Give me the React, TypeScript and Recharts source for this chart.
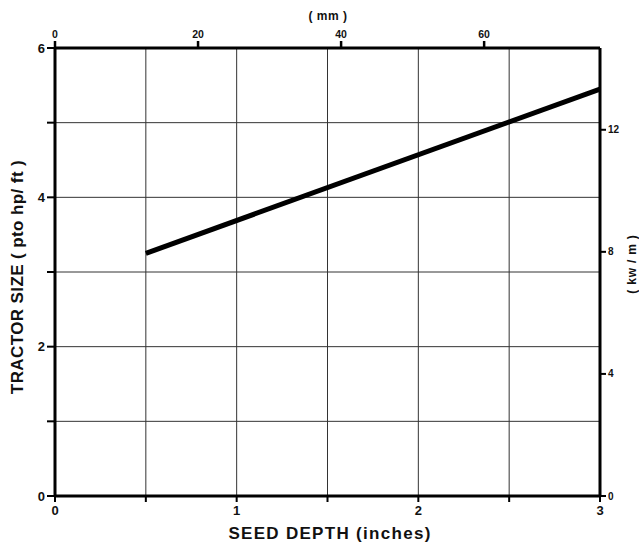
import React from 'react';
import { LineChart, Line, XAxis, YAxis, CartesianGrid } from 'recharts';

const depthIn = [0.5, 3];
const tractorSize = [3.25, 5.45];
const xTicks = [0, 0.5, 1, 1.5, 2, 2.5, 3];
const yTicks = [0, 1, 2, 3, 4, 5, 6];
const mmTicks = [0, 20, 40, 60];
const kwTicks = [0, 4, 8, 12];
const MM_PER_IN = 25.4;
const HP_FT_TO_KW_M = 0.7457 / 0.3048;

const data = depthIn.map((d, i) => ({ depth: d, mm: d * MM_PER_IN, size: tractorSize[i] }));

const FONT = '"Liberation Sans", Arial, sans-serif';
const tickStyle = { fontFamily: FONT, fontSize: 11, fontWeight: 700, fill: '#111' };

export default function App() {
  return (
    <div style={{ position: 'absolute', left: 0, top: 0, width: 639, height: 543, background: '#fff' }}>
      <LineChart width={639} height={543} data={data} margin={{ top: 0, right: 0, bottom: 0, left: 0 }}>
        <CartesianGrid xAxisId="in" yAxisId="hp" stroke="#333" strokeWidth={1} />
        <XAxis
          xAxisId="in"
          dataKey="depth"
          type="number"
          domain={[0, 3]}
          ticks={xTicks}
          orientation="bottom"
          height={47}
          stroke="#000"
          strokeWidth={3}
          tickSize={6}
          tickMargin={4}
          tickLine={{ stroke: '#000', strokeWidth: 2 }}
          tick={{ ...tickStyle, fontSize: 13 }}
          tickFormatter={(v: number) => (Number.isInteger(v) ? String(v) : '')}
          interval={0}
          label={{
            content: () => (
              <text x={330} y={539} textAnchor="middle" style={{ fontFamily: FONT, fontSize: 17, fontWeight: 700, letterSpacing: 1.3 }} fill="#111">
                SEED DEPTH  (inches)
              </text>
            ),
          }}
        />
        <XAxis
          xAxisId="mm"
          dataKey="mm"
          type="number"
          domain={[0, 3 * MM_PER_IN]}
          ticks={mmTicks}
          orientation="top"
          height={48}
          stroke="#000"
          strokeWidth={3}
          tickSize={7}
          tickMargin={3}
          tickLine={{ stroke: '#000', strokeWidth: 2.5 }}
          tick={{ ...tickStyle, fontSize: 10.5 }}
          interval={0}
          allowDataOverflow
          label={{
            content: () => (
              <text x={328} y={20} textAnchor="middle" style={{ fontFamily: FONT, fontSize: 12, fontWeight: 700, letterSpacing: 0.5 }} fill="#111">
                ( mm )
              </text>
            ),
          }}
        />
        <YAxis
          yAxisId="hp"
          type="number"
          domain={[0, 6]}
          ticks={yTicks}
          width={55}
          stroke="#000"
          strokeWidth={3}
          tickSize={8}
          tickLine={{ stroke: '#000', strokeWidth: 2 }}
          tick={{ ...tickStyle, fontSize: 13 }}
          tickFormatter={(v: number) => (v % 2 === 0 ? String(v) : '')}
          interval={0}
          label={{
            content: () => (
              <text x={23} y={277} transform="rotate(-90 23 277)" textAnchor="middle" style={{ fontFamily: FONT, fontSize: 17, fontWeight: 700, letterSpacing: 0.4 }} fill="#111">
                TRACTOR SIZE ( pto hp/ ft )
              </text>
            ),
          }}
        />
        <YAxis
          yAxisId="kw"
          orientation="right"
          type="number"
          domain={[0, 6 * HP_FT_TO_KW_M]}
          ticks={kwTicks}
          width={39}
          stroke="#000"
          strokeWidth={3}
          tickSize={6}
          tickLine={{ stroke: '#000', strokeWidth: 2 }}
          tick={{ ...tickStyle, fontSize: 10 }}
          interval={0}
          allowDataOverflow
          label={{
            content: () => (
              <text x={636} y={264} transform="rotate(-90 636 264)" textAnchor="middle" style={{ fontFamily: FONT, fontSize: 12, fontWeight: 700, letterSpacing: 0.8 }} fill="#111">
                ( kw / m )
              </text>
            ),
          }}
        />
        <Line
          xAxisId="in"
          yAxisId="hp"
          dataKey="size"
          stroke="#000"
          strokeWidth={5}
          dot={false}
          isAnimationActive={false}
        />
      </LineChart>
    </div>
  );
}
